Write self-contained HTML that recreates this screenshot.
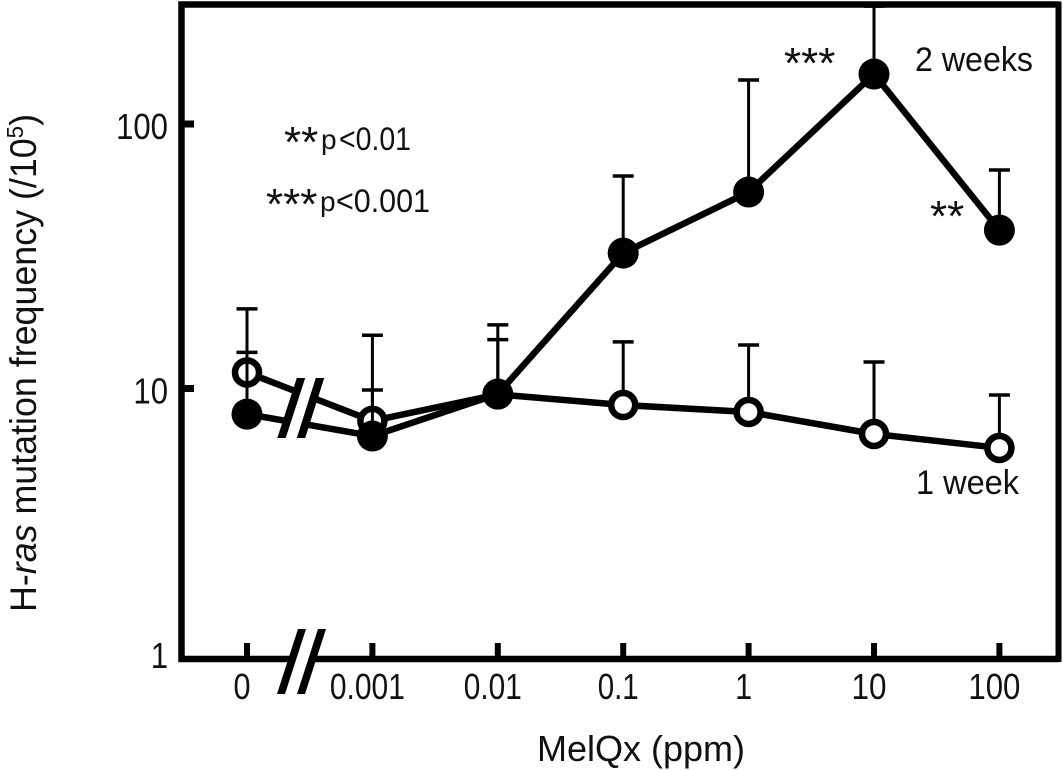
<!DOCTYPE html>
<html>
<head>
<meta charset="utf-8">
<title>H-ras mutation frequency</title>
<style>
html,body{margin:0;padding:0;background:#fff;width:1063px;height:770px;overflow:hidden}
svg{display:block}
text{font-family:"Liberation Sans",sans-serif;fill:#111}
</style>
</head>
<body>
<svg id="chart" width="1063" height="770" viewBox="0 0 1063 770" xmlns="http://www.w3.org/2000/svg">
  <text transform="translate(36,612) rotate(-90)" font-size="37" textLength="498" lengthAdjust="spacingAndGlyphs">H-<tspan font-style="italic">ras</tspan> mutation frequency (/10<tspan font-size="23" dy="-13">5</tspan><tspan dy="13">)</tspan></text>
  <text x="537" y="761" font-size="36" textLength="208" lengthAdjust="spacingAndGlyphs">MelQx (ppm)</text>
  <text x="915" y="71" font-size="34" textLength="118" lengthAdjust="spacingAndGlyphs">2 weeks</text>
  <text x="916" y="494" font-size="34" textLength="103" lengthAdjust="spacingAndGlyphs">1 week</text>

  <text x="284" y="157" font-size="44">**</text>
  <text x="321" y="149" font-size="28">p</text>
  <text x="339" y="150" font-size="32" textLength="72" lengthAdjust="spacingAndGlyphs">&lt;0.01</text>

  <text x="266" y="219" font-size="44">***</text>
  <text x="320" y="211" font-size="28">p</text>
  <text x="336" y="212" font-size="32" textLength="94" lengthAdjust="spacingAndGlyphs">&lt;0.001</text>

  <text x="784" y="78" font-size="44">***</text>
  <text x="930" y="231" font-size="44">**</text>
</svg>
<script>
const categories = ["0", "0.001", "0.01", "0.1", "1", "10", "100"];
const oneWeekValues = [11.5, 7.54, 9.5, 8.66, 8.15, 6.73, 5.96];
const oneWeekErrorTops = [20, 15.9, 17.4, 15, 14.6, 12.6, 9.45];
const twoWeekValues = [8.0, 6.61, 9.53, 32.5, 55.3, 154.5, 39.7];
const twoWeekErrorTops = [13.7, 9.87, 15.3, 63.6, 146.7, 279, 67];
const yTickValues = [100, 10, 1];
const yTickLabels = ["100", "10", "1"];

const SVG_NS = "http://www.w3.org/2000/svg";
const svg = document.getElementById("chart");
const AXIS_BOTTOM = 659;
const AXIS_LEFT = 181.5;

function xScale(i) { return 247 + 125.4 * i; }
function yScale(v) { return 653 - 264.5 * Math.log10(v); }

function make(tag, attrs) {
  const el = document.createElementNS(SVG_NS, tag);
  for (const k in attrs) el.setAttribute(k, attrs[k]);
  svg.appendChild(el);
  return el;
}

function drawErrorBars(values, tops, prefix) {
  values.forEach(function (v, i) {
    const x = xScale(i);
    const stem = make("line", { x1: x, x2: x, y1: yScale(v), y2: yScale(tops[i]), stroke: "#000", "stroke-width": 3 });
    
    
    const cap = make("line", { x1: x - 10.5, x2: x + 10.5, y1: yScale(tops[i]), y2: yScale(tops[i]), stroke: "#000", "stroke-width": 3.5 });
    
    
  });
}

function drawLine(values, prefix) {
  const pts = values.map(function (v, i) { return xScale(i) + "," + yScale(v); }).join(" ");
  const line = make("polyline", { points: pts, fill: "none", stroke: "#000", "stroke-width": 6.5, "stroke-linejoin": "round" });
  
  
}

function drawPoints(values, prefix, hollow) {
  values.forEach(function (v, i) {
    const c = make("circle", {
      cx: xScale(i), cy: yScale(v), r: hollow ? 12 : 15.5,
      fill: hollow ? "none" : "#000", stroke: hollow ? "#000" : "none", "stroke-width": 6.5
    });
    
    
  });
}

function drawHollowFill(values) {
  values.forEach(function (v, i) {
    const c = make("circle", { cx: xScale(i), cy: yScale(v), r: 12, fill: "#fff" });
    
    
  });
}

/* 1 week series */
drawErrorBars(oneWeekValues, oneWeekErrorTops, "one-week");
drawLine(oneWeekValues, "one-week");
drawHollowFill(oneWeekValues);
drawPoints(oneWeekValues, "one-week", true);

/* 2 weeks series */
drawLine(twoWeekValues, "two-weeks");
drawErrorBars(twoWeekValues, twoWeekErrorTops, "two-weeks");
drawPoints(twoWeekValues, "two-weeks", false);

/* plot frame */
const frame = make("path", { d: "M1058.5 4.5H" + AXIS_LEFT + "V" + AXIS_BOTTOM + "H1058.5", fill: "none", stroke: "#000", "stroke-width": 6.5 });


const rightEdge = make("line", { x1: 1058.5, x2: 1058.5, y1: 1.5, y2: 662, stroke: "#000", "stroke-width": 6 });



/* axis ticks and labels */
categories.forEach(function (label, i) {
  const x = xScale(i);
  const tick = make("line", { x1: x, x2: x, y1: 643, y2: AXIS_BOTTOM, stroke: "#000", "stroke-width": 6 });
  
  
  const t = make("text", { x: x - 5, y: 699, "font-size": 36, "text-anchor": "middle" });
  
  
  t.setAttribute('textLength', Math.round(label.replace(".", "").length * 17.3 + (label.indexOf(".") >= 0 ? 6 : 0)));
  t.setAttribute('lengthAdjust', 'spacingAndGlyphs');
  t.textContent = label;
});

yTickValues.forEach(function (v, i) {
  if (v > 1) {
    const tick = make("line", { x1: AXIS_LEFT, x2: 194, y1: yScale(v), y2: yScale(v), stroke: "#000", "stroke-width": 7 });
    
    
  }
  const t = make("text", { x: 168, y: yScale(v) + 15, "font-size": 36, "text-anchor": "end" });
  
  
  t.setAttribute('textLength', yTickLabels[i].length * 17.3);
  t.setAttribute('lengthAdjust', 'spacingAndGlyphs');
  t.textContent = yTickLabels[i];
});

/* axis break marks */
const dataGap = make("polygon", { points: "301,378 320,378 301,438 281.5,438", fill: "#fff" });


const axisGap = make("polygon", { points: "302,629 322,629 301,694 281,694", fill: "#fff" });



function drawSlash(name, xTop, yTop, xBottom, yBottom, halfWidth) {
  const pts = [
    (xTop - halfWidth) + "," + yTop, (xTop + halfWidth) + "," + yTop,
    (xBottom + halfWidth) + "," + yBottom, (xBottom - halfWidth) + "," + yBottom
  ].join(" ");
  const slash = make("polygon", { points: pts, fill: "#000" });
  
  
}
drawSlash("data-break-slash-left", 301, 378, 281.5, 438, 4.2);
drawSlash("data-break-slash-right", 320, 378, 301, 438, 4.2);
drawSlash("axis-break-slash-left", 302, 629, 281, 694, 4);
drawSlash("axis-break-slash-right", 322, 629, 301, 694, 4);
</script>
</body>
</html>
